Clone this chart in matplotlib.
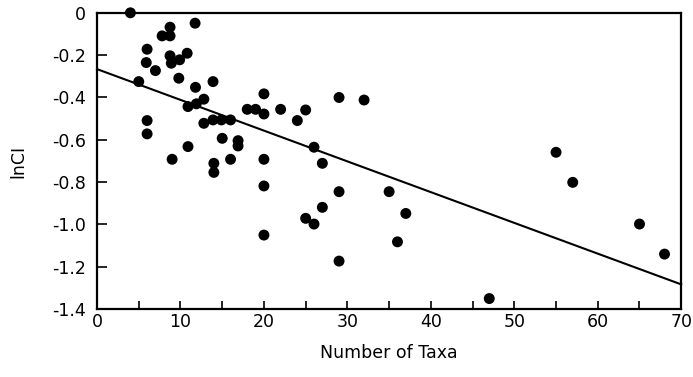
import matplotlib
matplotlib.use("Agg")
import matplotlib.pyplot as plt
from matplotlib.ticker import MultipleLocator

# Number of taxa in each data set and the log consistency index
num_taxa = [4, 8.75, 11.75, 7.8, 8.75, 6, 5.9, 7, 8.75, 8.9, 9.9, 10.8,
            5, 9.8, 11.8, 13.9, 12.8, 11.9, 10.9, 20, 18, 19, 20, 22,
            25, 24, 12.8, 13.9, 14.9, 16, 6, 6, 15, 16.9, 16.9, 10.9,
            9, 14, 16, 20, 14, 20, 20, 25, 29, 32, 26, 27, 29, 35, 37,
            27, 26, 36, 29, 47, 55, 57, 65, 68]
ln_ci = [0.0, -0.068, -0.049, -0.109, -0.109, -0.172, -0.235, -0.273,
         -0.203, -0.238, -0.222, -0.191, -0.325, -0.309, -0.352, -0.325,
         -0.408, -0.430, -0.443, -0.383, -0.456, -0.456, -0.478, -0.456,
         -0.459, -0.509, -0.522, -0.506, -0.506, -0.506, -0.509, -0.572,
         -0.593, -0.604, -0.629, -0.632, -0.692, -0.711, -0.692, -0.692,
         -0.754, -0.818, -1.050, -0.971, -0.400, -0.412, -0.635, -0.711,
         -0.845, -0.845, -0.948, -0.919, -0.998, -1.082, -1.173, -1.350,
         -0.659, -0.801, -0.998, -1.140]

# Fitted regression line: lnCI = intercept + slope * taxa
line_intercept = -0.266
line_slope = -0.01453
line_x = [0, 70]

x_ticks = [0, 10, 20, 30, 40, 50, 60, 70]
y_ticks = [0, -0.2, -0.4, -0.6, -0.8, -1.0, -1.2, -1.4]
y_tick_labels = ["0", "-0.2", "-0.4", "-0.6", "-0.8", "-1.0", "-1.2", "-1.4"]

plt.rcParams["font.family"] = ["DejaVu Sans"]

fig = plt.figure(figsize=(6.93, 3.77), dpi=100)
ax = fig.add_axes([0.140, 0.180, 0.843, 0.786])

ax.scatter(num_taxa, ln_ci, s=62, color="black", edgecolors="none",
           zorder=3, clip_on=False)
line_y = [line_intercept + line_slope * v for v in line_x]
ax.plot(line_x, line_y, color="black", lw=1.5, zorder=2, clip_on=False)

ax.set_xlim(0, 70)
ax.set_ylim(-1.4, 0)
ax.set_xticks(x_ticks)
ax.xaxis.set_minor_locator(MultipleLocator(5))
ax.set_yticks(y_ticks)
ax.set_yticklabels(y_tick_labels)

ax.tick_params(axis="x", which="both", direction="in", length=6, width=1.2,
               pad=3, labelsize=12.5, top=False)
ax.tick_params(axis="y", which="both", direction="in", length=7, width=1.2,
               pad=8, labelsize=12.5, right=False)

for sp in ax.spines.values():
    sp.set_linewidth(1.6)

ax.set_xlabel("Number of Taxa", fontsize=12.5, labelpad=9)
ax.set_ylabel("lnCI", fontsize=12.5, labelpad=18)

fig.savefig("out.png", dpi=100)
